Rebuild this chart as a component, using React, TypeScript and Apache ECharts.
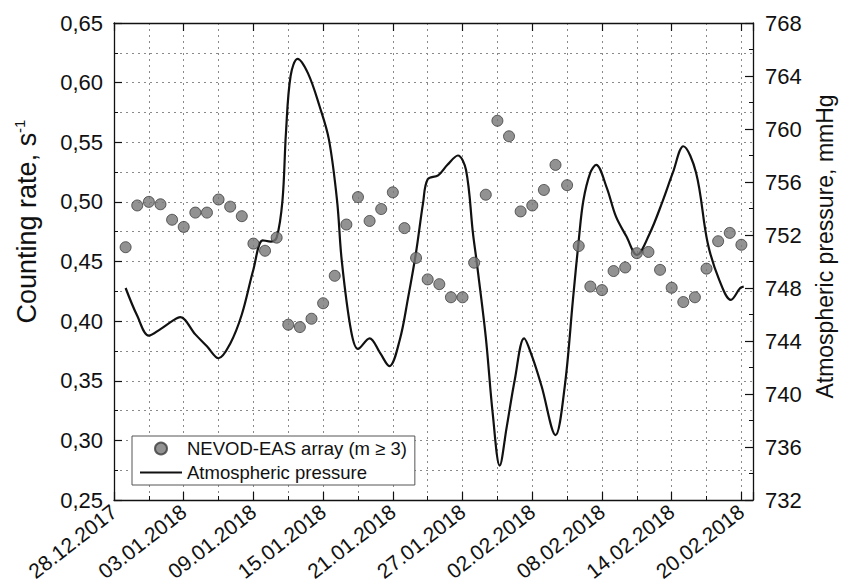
import React, { useEffect, useRef } from 'react';
import * as echarts from 'echarts';

// x positions are day offsets from 28.12.2017
const xTickLabels = [
  '28.12.2017', '03.01.2018', '09.01.2018', '15.01.2018', '21.01.2018',
  '27.01.2018', '02.02.2018', '08.02.2018', '14.02.2018', '20.02.2018',
];

const rateDays = [
  1, 2, 3, 4, 5, 6, 7, 8, 9, 10, 11, 12, 13, 14, 15, 16, 17, 18,
  19, 20, 21, 22, 23, 24, 25, 26, 27, 28, 29, 30, 31, 32, 33, 34, 35, 36,
  37, 38, 39, 40, 41, 42, 43, 44, 45, 46, 47, 48, 49, 50, 51, 52, 53, 54,
];
const rateValues = [
  0.462, 0.497, 0.500, 0.498, 0.485, 0.479, 0.491, 0.491, 0.502, 0.496, 0.488, 0.465, 0.459, 0.470, 0.397, 0.395, 0.402, 0.415,
  0.438, 0.481, 0.504, 0.484, 0.494, 0.508, 0.478, 0.453, 0.435, 0.431, 0.420, 0.420, 0.449, 0.506, 0.568, 0.555, 0.492, 0.497,
  0.510, 0.531, 0.514, 0.463, 0.429, 0.426, 0.442, 0.445, 0.457, 0.458, 0.443, 0.428, 0.416, 0.420, 0.444, 0.467, 0.474, 0.464,
];

const pressureDays = [
  1.0, 2.0, 3.0, 4.0, 5.0, 5.7, 7.0, 8.0, 9.0, 10.0, 11.0, 12.0, 12.8, 13.5, 14.0, 14.5, 14.8, 15.2,
  15.8, 16.7, 17.7, 18.5, 19.2, 19.6, 20.4, 21.0, 22.0, 22.9, 23.7, 24.6, 25.3, 26.0, 26.6, 27.0, 27.9, 28.7,
  29.6, 30.3, 30.9, 31.2, 32.0, 32.6, 33.2, 33.8, 34.5, 35.3, 36.0, 36.8, 38.0, 38.8, 39.5, 40.0, 40.4, 41.0,
  41.5, 42.4, 43.2, 44.1, 45.0, 46.1, 47.2, 48.1, 49.0, 50.1, 51.1, 52.1, 53.1, 53.9, 54.2,
];
const pressureValues = [
  748.0, 745.9, 744.4, 744.9, 745.5, 745.8, 744.5, 743.6, 742.7, 743.8, 746.0, 749.4, 751.6, 751.5, 751.8, 754.6, 759.7, 764.0,
  765.3, 764.2, 761.7, 759.2, 754.6, 750.1, 744.8, 743.4, 744.2, 743.1, 742.1, 744.1, 747.2, 750.7, 754.4, 756.2, 756.5, 757.3,
  758.0, 756.9, 752.1, 750.1, 744.3, 738.5, 734.6, 737.5, 741.1, 744.2, 742.8, 740.6, 736.9, 740.6, 747.1, 751.6, 754.6, 756.7,
  757.3, 755.6, 753.4, 751.9, 750.5, 752.1, 754.5, 756.7, 758.7, 756.7, 751.4, 748.6, 747.1, 748.0, 748.1,
];

const rateName = 'NEVOD-EAS array (m \u2265 3)';
const pressureName = 'Atmospheric pressure';

const FONT = '"Liberation Sans", Arial, Helvetica, sans-serif';
const AX = '#111';

export default function App() {
  const ref = useRef<HTMLDivElement>(null);

  useEffect(() => {
    if (!ref.current) return;
    const chart = echarts.init(ref.current, undefined, { renderer: 'svg' });

    const xCommon = {
      type: 'value',
      min: 0,
      max: 55,
      gridIndex: 0,
    };
    const dotted = { type: [2, 4], color: '#8a8a8a', width: 1 };

    const option = {
      animation: false,
      backgroundColor: '#fff',
      textStyle: { fontFamily: FONT },
      grid: { left: 114, right: 87, top: 23, bottom: 88, containLabel: false },
      legend: {
        orient: 'vertical',
        left: 132,
        top: 436,
        itemWidth: 42,
        itemHeight: 12,
        itemGap: 5,
        padding: [3, 8, 3, 8],
        borderColor: '#555',
        borderWidth: 1,
        backgroundColor: '#fff',
        textStyle: { fontSize: 18.5, color: '#111', fontFamily: FONT },
        data: [
          { name: rateName },
          { name: pressureName, icon: 'path://M0,0 L42,0 L42,2.2 L0,2.2 Z' },
        ],
      },
      xAxis: [
        {
          ...xCommon,
          position: 'bottom',
          interval: 6,
          axisLine: { show: true, onZero: false, lineStyle: { color: AX, width: 1.3 } },
          axisTick: { show: true, inside: true, length: 8, lineStyle: { color: AX, width: 1.2 } },
          axisLabel: {
            show: true,
            rotate: 38,
            margin: 9,
            fontSize: 21,
            color: '#111',
            fontFamily: FONT,
            formatter: (v: number) => (v % 6 === 0 ? xTickLabels[v / 6] ?? '' : ''),
          },
          splitLine: { show: false },
        },
        {
          ...xCommon,
          position: 'bottom',
          interval: 3,
          axisLine: { show: false, onZero: false },
          axisTick: { show: true, inside: true, length: 4, lineStyle: { color: AX, width: 1 } },
          axisLabel: { show: false },
          splitLine: { show: true, lineStyle: dotted },
        },
        {
          ...xCommon,
          position: 'top',
          interval: 6,
          axisLine: { show: true, onZero: false, lineStyle: { color: AX, width: 1.3 } },
          axisTick: { show: true, inside: true, length: 8, lineStyle: { color: AX, width: 1.2 } },
          axisLabel: { show: false },
          splitLine: { show: false },
        },
      ],
      yAxis: [
        {
          type: 'value',
          position: 'left',
          min: 0.25,
          max: 0.65,
          interval: 0.05,
          name: '{a|Counting rate, s}{b|-1}',
          nameLocation: 'middle',
          nameRotate: 90,
          nameGap: 72,
          nameTextStyle: {
            padding: [0, 0, 0, 80],
            rich: {
              a: { fontSize: 27, color: '#111', fontFamily: FONT, lineHeight: 30 },
              b: { fontSize: 15, color: '#111', fontFamily: FONT, verticalAlign: 'top', lineHeight: 30 },
            },
          },
          axisLine: { show: true, onZero: false, lineStyle: { color: AX, width: 1.3 } },
          axisTick: { show: true, inside: true, length: 8, lineStyle: { color: AX, width: 1.2 } },
          minorTick: { show: true, splitNumber: 2, length: 4, lineStyle: { color: AX, width: 1 } },
          axisLabel: {
            margin: 11,
            fontSize: 22,
            color: '#111',
            fontFamily: FONT,
            formatter: (v: number) => v.toFixed(2).replace('.', ','),
          },
          splitLine: { show: true, lineStyle: dotted },
          minorSplitLine: { show: true, lineStyle: dotted },
        },
        {
          type: 'value',
          position: 'right',
          min: 732,
          max: 768,
          interval: 4,
          name: 'Atmospheric pressure, mmHg',
          nameLocation: 'middle',
          nameRotate: 90,
          nameGap: 60,
          nameTextStyle: { fontSize: 23, color: '#111', fontFamily: FONT, padding: [0, 0, 0, 30] },
          axisLine: { show: true, onZero: false, lineStyle: { color: AX, width: 1.3 } },
          axisTick: { show: true, inside: true, length: 8, lineStyle: { color: AX, width: 1.2 } },
          minorTick: { show: true, splitNumber: 2, length: 4, lineStyle: { color: AX, width: 1 } },
          axisLabel: { margin: 12, fontSize: 22, color: '#111', fontFamily: FONT },
          splitLine: { show: false },
        },
      ],
      series: [
        {
          name: pressureName,
          type: 'line',
          xAxisIndex: 0,
          yAxisIndex: 1,
          smooth: 0.35,
          symbol: 'none',
          lineStyle: { color: '#111', width: 2.2 },
          itemStyle: { color: '#111' },
          data: pressureDays.map((d, i) => [d, pressureValues[i]]),
          z: 3,
        },
        {
          name: rateName,
          type: 'scatter',
          xAxisIndex: 0,
          yAxisIndex: 0,
          symbol: 'circle',
          symbolSize: 11,
          itemStyle: { color: '#777777', borderColor: '#3c3c3c', borderWidth: 1 },
          data: rateDays.map((d, i) => [d, rateValues[i]]),
          z: 4,
        },
      ],
    };

    chart.setOption(option as any);
    return () => chart.dispose();
  }, []);

  return <div ref={ref} style={{ width: 844, height: 588, position: 'absolute', left: 0, top: 0 }} />;
}
